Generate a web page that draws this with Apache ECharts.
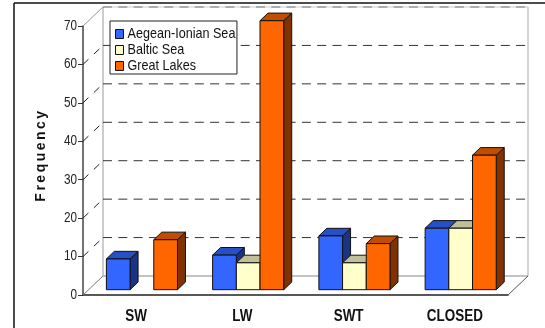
<!DOCTYPE html>
<html>
<head>
<meta charset="utf-8">
<style>html,body{margin:0;padding:0;background:#fff}#chart{width:545px;height:328px}</style>
<script src="https://cdn.jsdelivr.net/npm/echarts@6/dist/echarts.min.js"></script>
</head>
<body>
<div id="chart"></div>
<script>
// Frequency of each category by sea basin
const categories = ['SW', 'LW', 'SWT', 'CLOSED'];
const aegeanIonian = [8, 9, 14, 16];
const baltic = [0, 7, 7, 16];
const greatLakes = [13, 70, 12, 35];
const yTicks = [0, 10, 20, 30, 40, 50, 60, 70];

const seriesNames = ['Aegean-Ionian Sea', 'Baltic Sea', 'Great Lakes'];
const faceColors = ['#3366FF', '#FFFFCC', '#FF6600'];
const topColors = ['#2650C4', '#BFBF99', '#C04D00'];
const sideColors = ['#1A3385', '#808066', '#803300'];

// Oblique projection of the box: the floor and back wall sit up and to the right
const WALL_DX = 20, WALL_DY = -19;
const BAR_PLANE_DX = 5.8, BAR_PLANE_DY = -5.3;
const BAR_W = 23.7, BAR_DX = 8, BAR_DY = -7.6;

// The axis title is tracked out; every other label is set condensed
const NARROW = 0.84;
const nativeFillText = CanvasRenderingContext2D.prototype.fillText;
CanvasRenderingContext2D.prototype.fillText = function (t, x, y) {
  if (t === 'Frequency') {
    this.letterSpacing = '2.5px';
    nativeFillText.call(this, t, x, y);
    this.letterSpacing = '0px';
    return;
  }
  this.save();
  this.translate(x, y);
  this.scale(NARROW, 1);
  nativeFillText.call(this, t, 0, 0);
  this.restore();
};

function renderBar(seriesIdx) {
  return function (params, api) {
    const v = api.value(1);
    if (!v) return null;
    const center = api.coord([api.value(0), 0])[0];
    const base = api.coord([api.value(0), 0])[1] + BAR_PLANE_DY;
    const top = api.coord([api.value(0), v])[1] + BAR_PLANE_DY;
    const x0 = center + BAR_PLANE_DX + (seriesIdx - 1.5) * BAR_W;
    const x1 = x0 + BAR_W;
    const edge = { stroke: '#111', lineWidth: 1, lineJoin: 'round' };
    const poly = (points, fill) => ({
      type: 'polygon',
      shape: { points },
      style: Object.assign({ fill }, edge)
    });
    return {
      type: 'group',
      children: [
        poly([[x1, base], [x1 + BAR_DX, base + BAR_DY], [x1 + BAR_DX, top + BAR_DY], [x1, top]], sideColors[seriesIdx]),
        poly([[x0, top], [x1, top], [x1 + BAR_DX, top + BAR_DY], [x0 + BAR_DX, top + BAR_DY]], topColors[seriesIdx]),
        poly([[x0, base], [x1, base], [x1, top], [x0, top]], faceColors[seriesIdx])
      ]
    };
  };
}

// Back wall, side wall and floor of the box, one element per y tick
function renderWalls(params, api) {
  const cs = params.coordSys;
  const left = cs.x, right = cs.x + cs.width;
  const y = api.coord([0, api.value(0)])[1];
  const line = (x1, y1, x2, y2, stroke, lineDash) => ({
    type: 'line',
    shape: { x1, y1, x2, y2 },
    style: { stroke, lineWidth: 1, lineDash: lineDash || null }
  });
  const kids = [];
  const v = api.value(0);
  if (v === 0) {
    kids.push(line(left, y, left + WALL_DX, y + WALL_DY, '#777'));
    kids.push(line(left + WALL_DX, y + WALL_DY, right + WALL_DX, y + WALL_DY, '#888'));
    kids.push(line(right, y, right + WALL_DX, y + WALL_DY, '#555'));
    kids.push(line(left + WALL_DX, y + WALL_DY, left + WALL_DX, cs.y + WALL_DY, '#999'));
    kids.push(line(right + WALL_DX, y + WALL_DY, right + WALL_DX, cs.y + WALL_DY, '#aaa'));
  } else if (v === yTicks[yTicks.length - 1]) {
    kids.push(line(left, y, left + WALL_DX, y + WALL_DY, '#999'));
    kids.push(line(left + WALL_DX, y + WALL_DY, right + WALL_DX, y + WALL_DY, '#ccc'));
    kids.push(line(left + WALL_DX, y + WALL_DY, right + WALL_DX, y + WALL_DY, '#777', [9, 6.3]));
  } else {
    kids.push(line(left, y, left + WALL_DX, y + WALL_DY, '#222', [7.5, 7.5]));
    kids.push(line(left + WALL_DX, y + WALL_DY, right + WALL_DX, y + WALL_DY, '#333', [9, 6.3]));
  }
  return { type: 'group', children: kids };
}

const barSeries = [aegeanIonian, baltic, greatLakes].map((values, i) => ({
  type: 'custom',
  name: seriesNames[i],
  renderItem: renderBar(i),
  encode: { x: 0, y: 1 },
  itemStyle: { color: faceColors[i] },
  data: values.map((v, c) => [c, v]),
  silent: true,
  z: 3
}));

const chart = echarts.init(document.getElementById('chart'), null, { renderer: 'canvas' });
chart.setOption({
  animation: false,
  backgroundColor: '#fff',
  grid: { left: 83, right: 37, top: 26, bottom: 33 },
  legend: {
    data: seriesNames,
    orient: 'vertical',
    left: 110,
    top: 21,
    padding: [5, -19, 0, 5],
    itemGap: 0,
    itemWidth: 8,
    itemHeight: 9,
    icon: 'rect',
    borderColor: '#222',
    borderWidth: 1,
    backgroundColor: '#fff',
    selectedMode: false,
    z: 10,
    itemStyle: { borderColor: '#111', borderWidth: 1 },
    textStyle: {
      fontFamily: 'Liberation Sans',
      fontSize: 15,
      color: '#111',
      padding: [0, 0, 0, -1],
      lineHeight: 16
    }
  },
  xAxis: {
    type: 'category',
    data: categories,
    axisLine: { lineStyle: { color: '#222', width: 1.5 } },
    axisTick: { length: 4, lineStyle: { color: '#222' } },
    axisLabel: {
      interval: 0,
      margin: 14,
      fontFamily: 'Liberation Sans',
      fontWeight: 'bold',
      fontSize: 16,
      color: '#111'
    }
  },
  yAxis: {
    type: 'value',
    min: 0,
    max: 70,
    interval: 10,
    name: 'Frequency',
    nameLocation: 'middle',
    nameGap: 35,
    nameTextStyle: {
      fontFamily: 'Liberation Sans',
      fontWeight: 'bold',
      fontSize: 14,
      color: '#111',
      padding: [0, 0, 0, 11]
    },
    axisLine: { show: true, lineStyle: { color: '#444', width: 1.5 } },
    axisTick: { show: true, length: 5, lineStyle: { color: '#333' } },
    axisLabel: {
      margin: 6,
      fontFamily: 'Liberation Sans',
      fontSize: 14,
      color: '#222'
    },
    splitLine: { show: false }
  },
  graphic: [
    { type: 'line', shape: { x1: 14, y1: 3, x2: 545, y2: 3 }, style: { stroke: '#111', lineWidth: 1.5 } },
    { type: 'line', shape: { x1: 14, y1: 3, x2: 14, y2: 328 }, style: { stroke: '#111', lineWidth: 1.5 } }
  ],
  series: [
    {
      type: 'custom',
      name: 'walls',
      renderItem: renderWalls,
      encode: { y: 0 },
      data: yTicks.map(v => [v]),
      silent: true,
      z: 1
    }
  ].concat(barSeries)
});
</script>
</body>
</html>
